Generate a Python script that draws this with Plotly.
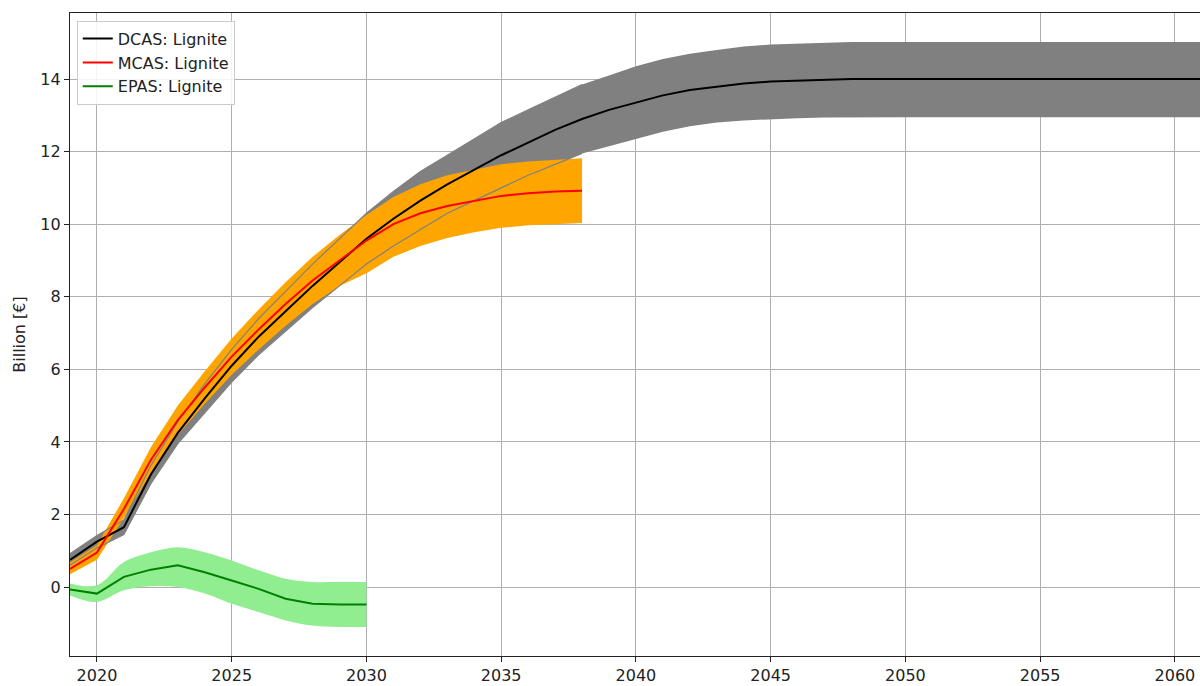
import plotly.graph_objects as go

# Years for each scenario
years_dcas = list(range(2019, 2062))
years_mcas = list(range(2019, 2039))
years_epas = list(range(2019, 2031))

# DCAS: Lignite (billion EUR), mean with lower/upper band
dcas_mean = [0.75, 1.25, 1.65, 3.1, 4.25, 5.2, 6.1, 6.9, 7.6, 8.3,
             8.95, 9.6, 10.15, 10.65, 11.1, 11.5, 11.9, 12.25, 12.6, 12.9,
             13.15, 13.35, 13.55, 13.7, 13.8, 13.88, 13.93, 13.96, 13.98, 14.0,
             14.0, 14.0, 14.0, 14.0, 14.0, 14.0, 14.0, 14.0, 14.0, 14.0,
             14.0, 14.0, 14.0]
dcas_upper = [0.92, 1.42, 1.85, 3.35, 4.55, 5.6, 6.55, 7.4, 8.15, 8.9,
              9.6, 10.3, 10.9, 11.45, 11.9, 12.35, 12.8, 13.15, 13.5, 13.85,
              14.1, 14.35, 14.55, 14.7, 14.8, 14.9, 14.95, 14.98, 15.0, 15.02,
              15.02, 15.02, 15.02, 15.02, 15.02, 15.02, 15.02, 15.02, 15.02, 15.02,
              15.02, 15.02, 15.02]
dcas_lower = [0.6, 1.08, 1.45, 2.85, 3.95, 4.8, 5.65, 6.4, 7.05, 7.7,
              8.3, 8.9, 9.4, 9.85, 10.3, 10.65, 11.0, 11.35, 11.65, 11.95,
              12.15, 12.35, 12.55, 12.7, 12.8, 12.86, 12.9, 12.92, 12.94, 12.95,
              12.95, 12.95, 12.95, 12.95, 12.95, 12.95, 12.95, 12.95, 12.95, 12.95,
              12.95, 12.95, 12.95]

# MCAS: Lignite
mcas_mean = [0.5, 0.95, 2.15, 3.5, 4.6, 5.5, 6.35, 7.1, 7.8, 8.45,
             9.0, 9.55, 10.0, 10.3, 10.5, 10.65, 10.78, 10.85, 10.9, 10.92]
mcas_upper = [0.68, 1.15, 2.45, 3.85, 5.0, 5.95, 6.85, 7.65, 8.4, 9.1,
              9.7, 10.25, 10.75, 11.1, 11.35, 11.5, 11.65, 11.73, 11.78, 11.82]
mcas_lower = [0.35, 0.75, 1.9, 3.15, 4.2, 5.05, 5.85, 6.55, 7.2, 7.8,
              8.3, 8.65, 9.1, 9.4, 9.62, 9.78, 9.9, 9.97, 10.0, 10.03]

# EPAS: Lignite
epas_mean = [-0.07, -0.18, 0.28, 0.48, 0.6, 0.41, 0.18, -0.05, -0.32, -0.46, -0.48, -0.48]
epas_upper = [0.1, 0.05, 0.69, 0.96, 1.1, 0.96, 0.73, 0.46, 0.23, 0.14, 0.14, 0.14]
epas_lower = [-0.23, -0.41, -0.09, 0.02, 0.0, -0.18, -0.46, -0.69, -0.92, -1.06, -1.1, -1.1]

GREY = "#808080"
ORANGE = "#ffa500"
LIGHTGREEN = "#90ee90"

fig = go.Figure()


def band(x, lo, hi, color, shape="linear"):
    fig.add_trace(go.Scatter(x=x, y=lo, mode="lines", line=dict(width=0, color=color, shape=shape),
                             showlegend=False, hoverinfo="skip"))
    fig.add_trace(go.Scatter(x=x, y=hi, mode="lines", line=dict(width=0, color=color, shape=shape),
                             fill="tonexty", fillcolor=color, showlegend=False, hoverinfo="skip"))


band(years_dcas, dcas_lower, dcas_upper, GREY)
band(years_mcas, mcas_lower, mcas_upper, ORANGE)

# edges of the DCAS band showing through the MCAS band
n_edge = 20
fig.add_trace(go.Scatter(x=years_dcas[:n_edge], y=dcas_lower[:n_edge], mode="lines",
                         line=dict(color=GREY, width=1.2), showlegend=False, hoverinfo="skip"))
fig.add_trace(go.Scatter(x=years_dcas[:n_edge], y=dcas_upper[:n_edge], mode="lines",
                         line=dict(color=GREY, width=1.2), showlegend=False, hoverinfo="skip"))

band(years_epas, epas_lower, epas_upper, LIGHTGREEN, shape="spline")

fig.add_trace(go.Scatter(x=years_dcas, y=dcas_mean, mode="lines", name="DCAS: Lignite",
                         line=dict(color="black", width=2)))
fig.add_trace(go.Scatter(x=years_mcas, y=mcas_mean, mode="lines", name="MCAS: Lignite",
                         line=dict(color="red", width=2)))
fig.add_trace(go.Scatter(x=years_epas, y=epas_mean, mode="lines", name="EPAS: Lignite",
                         line=dict(color="green", width=2)))

axis_font = dict(family="DejaVu Sans", size=16, color="#222222")

fig.update_layout(
    width=1200, height=686,
    margin=dict(l=70, r=0, t=13, b=30),
    paper_bgcolor="white", plot_bgcolor="white",
    font=axis_font,
    showlegend=True,
    legend=dict(x=0.006, y=0.988, xanchor="left", yanchor="top",
                traceorder="normal",
                bgcolor="rgba(255,255,255,0.85)", bordercolor="#cccccc", borderwidth=1,
                font=dict(family="DejaVu Sans", size=16, color="#222222"),
                tracegroupgap=0, itemwidth=30),
    xaxis=dict(range=[2019, 2060.93], tickmode="array",
               tickvals=[2020, 2025, 2030, 2035, 2040, 2045, 2050, 2055, 2060],
               showgrid=True, gridcolor="#b0b0b0", gridwidth=1,
               showline=True, linecolor="#222222", linewidth=1.2, mirror=True,
               ticks="outside", ticklen=5, tickcolor="#222222", zeroline=False,
               tickfont=axis_font),
    yaxis=dict(range=[-1.9, 15.82], tickmode="array",
               tickvals=[0, 2, 4, 6, 8, 10, 12, 14],
               showgrid=True, gridcolor="#b0b0b0", gridwidth=1,
               showline=True, linecolor="#222222", linewidth=1.2,
               ticks="outside", ticklen=5, tickcolor="#222222", zeroline=False,
               tickfont=axis_font,
               title=dict(text="Billion [€]", font=axis_font, standoff=10)),
)

fig.write_html("out.html")
